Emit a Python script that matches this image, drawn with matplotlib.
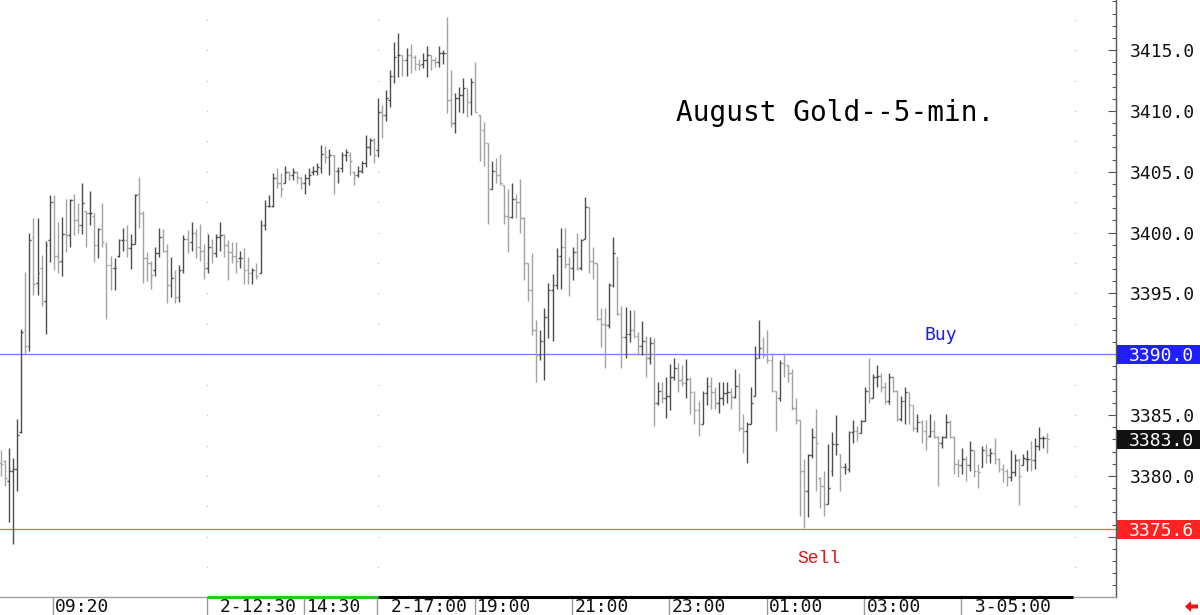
import numpy as np
import matplotlib.pyplot as plt
from matplotlib.patches import Rectangle, Polygon
from matplotlib.transforms import blended_transform_factory
from matplotlib.ticker import MultipleLocator, FuncFormatter

plt.rcParams['font.family'] = ['DejaVu Sans Mono', 'DejaVu Sans']

# ---------------- data: 5-min OHLC bars, August gold ----------------
highs = [
    3382.1, 3381.3, 3382.3, 3381.5, 3384.7, 3392.1, 3396.8, 3400.0, 3401.2, 3401.2,
    3398.2, 3399.3, 3403.1, 3403.1, 3400.9, 3401.3, 3402.8, 3402.8, 3403.2, 3402.4,
    3404.1, 3401.8, 3403.4, 3401.6, 3400.4, 3402.4, 3399.2, 3398.1, 3397.9, 3399.5,
    3400.4, 3400.6, 3399.9, 3403.2, 3404.6, 3401.8, 3398.4, 3397.7, 3398.8, 3400.4,
    3400.3, 3399.1, 3398.0, 3396.9, 3397.3, 3399.8, 3400.2, 3400.9, 3400.3, 3400.7,
    3399.1, 3399.9, 3399.5, 3399.9, 3400.9, 3399.9, 3399.4, 3399.2, 3399.2, 3398.5,
    3398.7, 3398.0, 3397.1, 3397.5, 3401.0, 3402.7, 3403.1, 3404.9, 3405.3, 3404.9,
    3405.5, 3405.1, 3405.3, 3405.1, 3404.6, 3404.8, 3405.3, 3405.5, 3405.7, 3407.2,
    3407.1, 3406.9, 3406.4, 3405.4, 3406.6, 3406.9, 3406.6, 3405.1, 3405.5, 3405.9,
    3408.0, 3407.8, 3407.8, 3411.1, 3410.5, 3411.7, 3413.4, 3415.7, 3416.4, 3414.6,
    3415.2, 3415.5, 3414.6, 3414.3, 3414.8, 3415.3, 3414.6, 3414.4, 3415.3, 3415.0,
    3417.7, 3413.4, 3411.5, 3412.0, 3412.7, 3411.9, 3412.7, 3414.0, 3409.7, 3409.1,
    3407.4, 3405.9, 3406.1, 3406.5, 3403.9, 3403.6, 3404.1, 3403.2, 3404.4, 3401.3,
    3397.5, 3398.3, 3392.8, 3392.0, 3393.8, 3395.9, 3396.6, 3398.7, 3400.4, 3400.4,
    3398.0, 3398.8, 3400.0, 3399.5, 3402.9, 3402.1, 3398.8, 3397.5, 3393.8, 3393.8,
    3395.9, 3399.6, 3398.0, 3394.0, 3393.9, 3393.6, 3393.6, 3391.8, 3392.7, 3391.5,
    3391.4, 3391.3, 3387.7, 3387.7, 3388.1, 3389.2, 3389.7, 3389.3, 3389.1, 3389.6,
    3388.1, 3387.0, 3386.2, 3387.0, 3388.1, 3388.1, 3387.3, 3387.7, 3387.7, 3387.7,
    3387.2, 3388.8, 3388.5, 3385.1, 3384.4, 3387.3, 3390.7, 3392.8, 3391.4, 3392.0,
    3390.1, 3387.0, 3389.5, 3390.1, 3389.1, 3388.8, 3386.4, 3384.6, 3381.4, 3381.8,
    3383.9, 3385.5, 3379.9, 3380.4, 3382.6, 3383.6, 3385.0, 3381.8, 3381.1, 3383.7,
    3384.6, 3384.1, 3384.6, 3387.3, 3389.7, 3388.4, 3389.1, 3388.5, 3387.7, 3388.5,
    3388.2, 3387.1, 3386.6, 3387.3, 3386.9, 3385.8, 3385.1, 3384.6, 3384.6, 3385.1,
    3384.6, 3383.3, 3383.3, 3385.1, 3384.6, 3383.3, 3381.4, 3382.3, 3381.6, 3382.9,
    3382.1, 3381.0, 3382.5, 3382.6, 3382.3, 3383.1, 3381.5, 3381.0, 3380.6, 3382.1,
    3381.8, 3381.5, 3381.8, 3382.1, 3382.9, 3383.1, 3384.0, 3383.3, 3383.5,
]
lows = [
    3380.0, 3379.2, 3376.2, 3374.4, 3378.8, 3383.5, 3390.0, 3390.3, 3394.9, 3394.9,
    3394.0, 3391.7, 3397.6, 3396.9, 3396.7, 3396.4, 3398.4, 3398.8, 3399.8, 3400.0,
    3399.9, 3398.8, 3400.6, 3397.6, 3397.9, 3398.8, 3392.9, 3395.3, 3395.3, 3398.0,
    3398.5, 3398.0, 3397.0, 3399.1, 3400.4, 3395.9, 3396.0, 3395.4, 3396.4, 3398.0,
    3398.4, 3394.2, 3394.7, 3394.2, 3394.3, 3396.7, 3398.3, 3398.5, 3397.9, 3397.7,
    3396.2, 3396.7, 3397.5, 3398.0, 3398.5, 3398.0, 3396.1, 3397.5, 3396.7, 3397.1,
    3395.8, 3395.8, 3395.8, 3396.2, 3396.7, 3400.2, 3402.1, 3402.1, 3403.7, 3402.9,
    3404.1, 3404.3, 3404.3, 3404.1, 3403.6, 3403.2, 3403.9, 3404.7, 3404.7, 3404.9,
    3405.7, 3404.7, 3403.2, 3404.1, 3405.0, 3405.9, 3404.7, 3403.9, 3404.6, 3404.9,
    3405.4, 3406.4, 3405.7, 3406.2, 3407.8, 3409.2, 3410.3, 3412.3, 3412.8, 3412.9,
    3412.9, 3413.1, 3413.4, 3413.4, 3413.5, 3412.8, 3413.4, 3413.6, 3413.6, 3413.9,
    3409.8, 3408.7, 3408.2, 3409.9, 3409.8, 3409.5, 3409.7, 3409.9, 3405.9, 3405.5,
    3400.7, 3403.6, 3404.1, 3403.9, 3400.7, 3398.4, 3401.2, 3401.2, 3400.0, 3396.1,
    3394.4, 3391.6, 3387.7, 3389.5, 3387.9, 3391.3, 3391.1, 3395.4, 3395.4, 3397.1,
    3394.8, 3396.1, 3396.9, 3396.9, 3399.5, 3396.7, 3396.2, 3392.8, 3390.6, 3388.9,
    3392.2, 3395.5, 3393.2, 3388.9, 3389.7, 3391.0, 3391.3, 3389.9, 3389.9, 3388.1,
    3389.2, 3384.1, 3385.8, 3386.0, 3384.8, 3385.4, 3387.9, 3386.9, 3387.4, 3386.4,
    3385.1, 3384.3, 3383.3, 3384.3, 3385.8, 3385.5, 3385.5, 3385.2, 3385.8, 3386.0,
    3385.5, 3386.4, 3383.7, 3381.9, 3381.1, 3384.3, 3386.6, 3389.7, 3389.7, 3389.3,
    3386.9, 3383.7, 3386.2, 3388.1, 3387.7, 3385.4, 3384.3, 3376.7, 3375.7, 3376.6,
    3381.5, 3378.8, 3377.4, 3376.7, 3377.7, 3380.0, 3381.7, 3378.8, 3380.2, 3380.3,
    3382.7, 3382.9, 3383.5, 3384.5, 3386.0, 3386.4, 3387.3, 3386.9, 3385.9, 3385.9,
    3386.9, 3384.5, 3384.5, 3384.3, 3384.3, 3383.7, 3383.6, 3382.7, 3382.1, 3383.2,
    3383.1, 3379.2, 3382.3, 3383.1, 3383.1, 3380.2, 3379.9, 3380.2, 3379.6, 3380.4,
    3379.9, 3379.0, 3380.7, 3381.1, 3381.1, 3381.0, 3380.3, 3379.5, 3379.2, 3379.6,
    3380.0, 3377.6, 3380.9, 3380.4, 3380.4, 3380.6, 3382.1, 3382.3, 3381.9,
]
opens = [
    3381.1, 3381.2, 3379.6, 3380.4, 3380.6, 3383.6, 3392.0, 3390.7, 3399.6, 3395.9,
    3397.1, 3394.4, 3399.4, 3402.5, 3398.1, 3397.7, 3399.9, 3399.8, 3402.7, 3401.0,
    3400.6, 3401.8, 3401.6, 3401.4, 3399.0, 3400.3, 3399.0, 3397.3, 3397.1, 3398.1,
    3399.4, 3399.4, 3398.7, 3399.1, 3403.2, 3401.6, 3397.9, 3397.5, 3396.9, 3398.3,
    3399.6, 3398.5, 3395.7, 3396.3, 3394.7, 3396.9, 3399.5, 3399.2, 3400.0, 3398.8,
    3398.5, 3397.1, 3398.8, 3398.3, 3399.6, 3399.8, 3399.0, 3398.4, 3398.1, 3397.9,
    3397.9, 3396.9, 3396.7, 3396.9, 3396.7, 3400.6, 3402.2, 3402.2, 3404.5, 3404.1,
    3404.1, 3405.0, 3404.7, 3405.0, 3404.5, 3404.1, 3404.5, 3405.0, 3405.1, 3405.3,
    3406.5, 3406.2, 3406.4, 3405.1, 3405.3, 3406.4, 3406.4, 3405.0, 3404.7, 3405.1,
    3405.7, 3407.0, 3407.6, 3406.8, 3409.9, 3409.7, 3410.9, 3412.9, 3414.6, 3414.6,
    3414.2, 3414.6, 3414.4, 3413.9, 3413.9, 3414.2, 3414.6, 3414.2, 3414.0, 3414.8,
    3414.8, 3410.9, 3409.0, 3411.1, 3411.3, 3411.9, 3410.7, 3412.4, 3409.7, 3408.4,
    3407.4, 3403.6, 3405.1, 3404.7, 3403.9, 3401.4, 3401.3, 3402.8, 3402.5, 3401.2,
    3397.5, 3395.3, 3392.0, 3389.9, 3391.1, 3393.1, 3395.3, 3395.7, 3398.1, 3398.8,
    3397.4, 3397.1, 3398.4, 3397.1, 3399.5, 3402.1, 3397.7, 3397.5, 3392.9, 3392.5,
    3392.4, 3395.7, 3398.0, 3393.3, 3391.4, 3391.7, 3392.0, 3391.5, 3390.7, 3391.1,
    3389.7, 3390.9, 3386.0, 3387.0, 3386.4, 3386.6, 3388.1, 3388.9, 3387.9, 3387.6,
    3388.0, 3386.9, 3385.4, 3384.3, 3386.8, 3387.4, 3386.9, 3386.0, 3386.4, 3386.8,
    3386.9, 3386.5, 3387.4, 3383.9, 3383.7, 3384.3, 3386.6, 3389.7, 3390.5, 3389.9,
    3389.5, 3387.0, 3386.4, 3389.3, 3389.1, 3388.5, 3385.6, 3384.6, 3380.4, 3378.8,
    3381.7, 3383.2, 3379.8, 3379.2, 3377.7, 3380.4, 3382.6, 3381.8, 3380.7, 3380.6,
    3383.6, 3383.7, 3383.5, 3384.5, 3387.0, 3386.4, 3388.1, 3388.2, 3387.3, 3386.2,
    3388.1, 3387.0, 3384.7, 3386.2, 3386.9, 3385.8, 3383.9, 3384.4, 3383.7, 3383.3,
    3383.7, 3383.2, 3382.7, 3383.2, 3384.4, 3383.2, 3381.0, 3380.9, 3381.4, 3380.9,
    3382.1, 3380.4, 3380.7, 3382.1, 3381.7, 3381.9, 3381.4, 3380.6, 3380.4, 3379.9,
    3380.3, 3381.3, 3380.9, 3381.4, 3381.4, 3381.3, 3382.5, 3383.1, 3383.1,
]
closes = [
    3381.0, 3379.8, 3380.4, 3380.6, 3383.4, 3391.8, 3390.7, 3399.4, 3395.8, 3396.7,
    3394.3, 3399.0, 3402.5, 3398.1, 3397.6, 3399.9, 3399.8, 3402.7, 3401.0, 3400.6,
    3402.4, 3401.6, 3401.6, 3399.0, 3400.3, 3399.2, 3397.3, 3397.1, 3397.1, 3399.4,
    3399.4, 3398.7, 3399.1, 3403.1, 3401.6, 3397.9, 3397.5, 3396.5, 3398.3, 3399.6,
    3398.5, 3395.7, 3396.3, 3394.7, 3396.9, 3399.5, 3399.2, 3400.0, 3398.8, 3398.5,
    3397.1, 3398.8, 3398.3, 3399.6, 3399.8, 3399.0, 3398.4, 3398.1, 3397.7, 3397.9,
    3396.9, 3396.7, 3396.9, 3396.4, 3400.6, 3402.2, 3402.2, 3404.5, 3404.1, 3403.6,
    3405.0, 3404.7, 3405.0, 3404.6, 3404.1, 3404.5, 3404.7, 3405.1, 3405.4, 3406.5,
    3406.2, 3406.4, 3405.1, 3405.1, 3406.4, 3406.6, 3405.9, 3404.7, 3405.1, 3405.7,
    3407.0, 3407.6, 3406.4, 3409.9, 3409.7, 3411.1, 3412.9, 3414.4, 3414.6, 3414.2,
    3414.6, 3414.4, 3413.9, 3413.8, 3414.2, 3414.6, 3414.2, 3414.0, 3414.8, 3414.8,
    3410.9, 3409.0, 3411.1, 3411.3, 3411.9, 3410.7, 3412.4, 3409.9, 3408.4, 3407.4,
    3403.6, 3405.1, 3404.7, 3404.1, 3401.4, 3401.3, 3402.8, 3402.5, 3401.2, 3397.5,
    3395.3, 3392.0, 3389.9, 3391.1, 3393.1, 3395.3, 3395.7, 3398.1, 3398.8, 3397.4,
    3397.1, 3398.4, 3397.1, 3399.4, 3402.1, 3397.7, 3397.5, 3392.9, 3392.5, 3392.4,
    3395.7, 3398.3, 3393.3, 3391.4, 3391.7, 3392.0, 3391.5, 3390.7, 3391.1, 3389.7,
    3390.9, 3386.0, 3387.0, 3386.4, 3386.6, 3388.1, 3388.9, 3387.9, 3387.6, 3388.0,
    3386.9, 3385.4, 3384.3, 3386.8, 3387.4, 3386.9, 3386.0, 3386.4, 3386.8, 3386.9,
    3386.5, 3387.4, 3383.9, 3383.7, 3384.3, 3386.0, 3389.7, 3390.5, 3389.9, 3389.5,
    3387.0, 3386.4, 3389.3, 3389.1, 3388.5, 3385.6, 3384.6, 3380.4, 3378.8, 3381.7,
    3383.2, 3382.7, 3379.2, 3377.7, 3379.0, 3382.6, 3382.6, 3380.7, 3380.7, 3383.6,
    3383.7, 3383.5, 3384.5, 3387.0, 3386.4, 3388.1, 3388.2, 3387.3, 3386.2, 3388.1,
    3387.0, 3384.7, 3386.2, 3386.9, 3385.8, 3383.9, 3384.4, 3383.7, 3383.1, 3383.7,
    3383.2, 3382.7, 3383.2, 3384.4, 3383.2, 3381.0, 3380.9, 3381.4, 3380.9, 3382.1,
    3380.4, 3380.3, 3382.1, 3381.7, 3381.9, 3381.4, 3380.6, 3380.4, 3379.9, 3380.3,
    3381.3, 3380.0, 3381.5, 3381.4, 3381.3, 3382.5, 3383.1, 3383.1, 3383.0,
]

time_labels = ["09:20", " 2-12:30", "14:30", " 2-17:00", "19:00",
               "21:00", "23:00", "01:00", "03:00", " 3-05:00"]
label_bars = [13, 51, 75, 93, 117, 141, 165, 189, 213, 237]

buy_level = 3390.0
sell_level = 3375.6
last_price = 3383.0

# ---------------- figure ----------------
W, H = 1200, 615
fig = plt.figure(figsize=(12, 6.15), dpi=100)
fig.patch.set_facecolor('white')
ax = fig.add_axes([0, 18 / H, 1116 / W, 597 / H])

n = len(highs)
x = np.arange(n)
o = np.array(opens)
c = np.array(closes)
cols = np.where(c >= o, '#4d4d4d', '#a3a3a3')

ax.vlines(x, lows, highs, colors=cols, lw=1.0, zorder=3)
ax.hlines(o, x - 0.45, x, colors=cols, lw=1.0, zorder=3)
ax.hlines(c, x, x + 0.45, colors=cols, lw=1.0, zorder=3)

ax.set_xlim(-0.25, 274.95)
ax.set_ylim(3370.05, 3419.12)

# faint dotted grid marks
for gx in [50.8, 92.9, 264.9]:
    gy = np.arange(3372.5, 3419, 2.5)
    ax.scatter(np.full(len(gy), gx), gy, s=1.2, color='#c4c4c4', lw=0, zorder=1)

# buy / sell lines
ax.axhline(buy_level, color='#7777ff', lw=0.9, zorder=2)
ax.axhline(sell_level, color='#ff5c5c', lw=0.9, zorder=2)
ax.text(231.8, 3391.6, "Buy", color='#1a1aee', fontsize=13, ha='center', va='center')
ax.text(201.7, 3373.2, "Sell", color='#e01818', fontsize=13, ha='center', va='center',
        family=['Liberation Mono', 'DejaVu Sans Mono'])

ax.text(835 / 1116, 1 - 113 / 597, "August Gold--5-min.", transform=ax.transAxes,
        fontsize=20, ha='center', va='center', color='black')

# spines and price axis
for s in ['left', 'top']:
    ax.spines[s].set_visible(False)
ax.spines['right'].set_color('#555555')
ax.spines['right'].set_linewidth(1.0)
ax.spines['bottom'].set_color('#a0a0a0')
ax.spines['bottom'].set_linewidth(1.0)
ax.set_xticks([])
ax.yaxis.tick_right()
ax.yaxis.set_major_locator(MultipleLocator(5))
ax.yaxis.set_minor_locator(MultipleLocator(1))

# levels covered by the coloured price boxes get no plain label
covered = [buy_level, 3375.0]
ax.yaxis.set_major_formatter(FuncFormatter(
    lambda v, p: "" if any(abs(v - cv) < 0.01 for cv in covered) else f"{v:.1f}"))
ax.tick_params(axis='y', which='major', direction='in', length=6, width=0.8,
               color='#555555', pad=10, labelsize=13, labelcolor='#111111')
ax.tick_params(axis='y', which='minor', direction='in', length=3, width=0.8,
               color='#555555')

# price boxes on the right axis
tr = blended_transform_factory(fig.transFigure, ax.transData)
for lvl, fc in [(buy_level, '#1f1fff'), (last_price, '#111111'), (sell_level, '#ff2222')]:
    ax.add_artist(Rectangle((1117 / W, lvl - 0.78), 83 / W, 1.56, transform=tr,
                            facecolor=fc, edgecolor='none', clip_on=False, zorder=5))
    ax.text(1129 / W, lvl, f"{lvl:.1f}", transform=tr, color='white', fontsize=13,
            ha='left', va='center_baseline', clip_on=False, zorder=6)

# time axis strip
tx = blended_transform_factory(ax.transData, ax.transAxes)
ax.plot([50.8, 92.9], [0, 0], transform=tx, color='#22cc22', lw=2.2,
        solid_capstyle='butt', clip_on=False, zorder=4)
ax.plot([92.9, 264.4], [0, 0], transform=tx, color='black', lw=2.2,
        solid_capstyle='butt', clip_on=False, zorder=4)
for xb, lab in zip(label_bars, time_labels):
    ax.plot([xb - 0.2, xb - 0.2], [0, -18 / 597], transform=tx, color='#9a9a9a',
            lw=1.0, clip_on=False)
    ax.text(xb + 0.4, -9.5 / 597, lab, transform=tx, fontsize=13, color='#111111',
            ha='left', va='center', clip_on=False)

# small red arrow, bottom right
px = lambda a, b: (a / 100, (H - b) / 100)
arrow = Polygon([px(1185, 606.5), px(1191, 601), px(1191, 604.5), px(1198, 604.5),
                 px(1198, 608.5), px(1191, 608.5), px(1191, 612)],
                closed=True, facecolor='#ee1111', edgecolor='none',
                transform=fig.dpi_scale_trans)
fig.patches.append(arrow)

fig.savefig("out.png", dpi=100, facecolor='white')
